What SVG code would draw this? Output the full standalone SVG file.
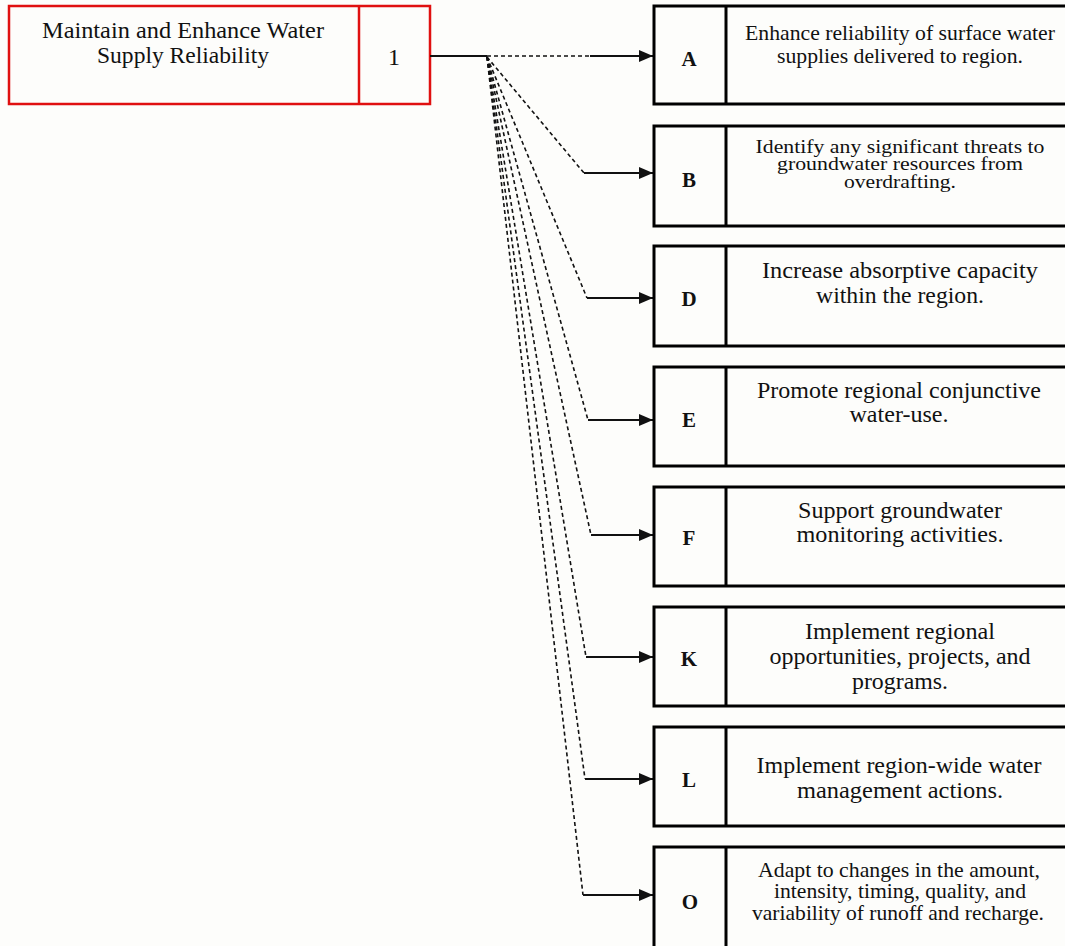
<svg xmlns="http://www.w3.org/2000/svg" width="1065" height="946" viewBox="0 0 1065 946">
<style>
.bg{fill:#fdfdfb}
.box{fill:#fdfdfb;stroke:#000;stroke-width:3}
.div{stroke:#000;stroke-width:3}
.red{fill:#fdfdfb;stroke:#e01010;stroke-width:2.5}
.rdiv{stroke:#e01010;stroke-width:2.5}
.t{font-family:"Liberation Serif","Times New Roman",serif;font-size:24px;fill:#111;text-anchor:middle}
.ta{font-family:"Liberation Serif","Times New Roman",serif;font-size:21px;fill:#111;text-anchor:middle}
.tb{font-family:"Liberation Serif","Times New Roman",serif;font-size:19px;fill:#111;text-anchor:middle}
.l{font-family:"Liberation Serif","Times New Roman",serif;font-size:21px;font-weight:bold;fill:#111;text-anchor:middle}
.dash{fill:none;stroke:#111;stroke-width:1.6;stroke-dasharray:4,3}
.arr{fill:none;stroke:#111;stroke-width:2;marker-end:url(#ah)}
.solid{fill:none;stroke:#111;stroke-width:2}
</style>
<defs>
<marker id="ah" markerWidth="14" markerHeight="12" refX="14" refY="6" orient="auto" markerUnits="userSpaceOnUse">
<path d="M0,0 L14,6 L0,12 Z" fill="#111"/>
</marker>
</defs>
<rect class="bg" x="0" y="0" width="1065" height="946"/>
<g id="goal1">
<rect class="red" x="9" y="6" width="421" height="98"/>
<line class="rdiv" x1="359" y1="6" x2="359" y2="104"/>
<text class="t" x="183" y="38" textLength="282" lengthAdjust="spacingAndGlyphs">Maintain and Enhance Water</text>
<text class="t" x="183" y="63" textLength="172" lengthAdjust="spacingAndGlyphs">Supply Reliability</text>
<text class="t" x="394" y="65">1</text>
</g>
<g id="connectors">
<line class="solid" x1="430" y1="56" x2="487" y2="56"/>
<path class="dash" d="M487,56 L590,56"/>
<path class="arr" d="M590,56 L653,56"/>
<path class="dash" d="M487,57 L584,173"/>
<path class="arr" d="M584,173 L653,173"/>
<path class="dash" d="M487,57 L587,298"/>
<path class="arr" d="M587,298 L653,298"/>
<path class="dash" d="M487,57 L588,420"/>
<path class="arr" d="M588,420 L653,420"/>
<path class="dash" d="M487,57 L591,535"/>
<path class="arr" d="M591,535 L653,535"/>
<path class="dash" d="M487,57 L586,657"/>
<path class="arr" d="M586,657 L653,657"/>
<path class="dash" d="M487,57 L585,779"/>
<path class="arr" d="M585,779 L653,779"/>
<path class="dash" d="M487,57 L583,895"/>
<path class="arr" d="M583,895 L653,895"/>
</g>
<g id="objA">
<rect class="box" x="654" y="6" width="420" height="98"/>
<line class="div" x1="726" y1="6" x2="726" y2="104"/>
<text class="l" x="689" y="66">A</text>
<text class="ta" x="900" y="40" textLength="310" lengthAdjust="spacingAndGlyphs">Enhance reliability of surface water</text>
<text class="ta" x="900" y="63" textLength="246" lengthAdjust="spacingAndGlyphs">supplies delivered to region.</text>
</g>
<g id="objB">
<rect class="box" x="654" y="126" width="420" height="100"/>
<line class="div" x1="726" y1="126" x2="726" y2="226"/>
<text class="l" x="689" y="187">B</text>
<text class="tb" x="900" y="153" textLength="289" lengthAdjust="spacingAndGlyphs">Identify any significant threats to</text>
<text class="tb" x="900" y="170" textLength="246" lengthAdjust="spacingAndGlyphs">groundwater resources from</text>
<text class="tb" x="900" y="188" textLength="112" lengthAdjust="spacingAndGlyphs">overdrafting.</text>
</g>
<g id="objD">
<rect class="box" x="654" y="246" width="420" height="100"/>
<line class="div" x1="726" y1="246" x2="726" y2="346"/>
<text class="l" x="689" y="306">D</text>
<text class="t" x="900" y="278" textLength="276" lengthAdjust="spacingAndGlyphs">Increase absorptive capacity</text>
<text class="t" x="900" y="303" textLength="168" lengthAdjust="spacingAndGlyphs">within the region.</text>
</g>
<g id="objE">
<rect class="box" x="654" y="367" width="420" height="99"/>
<line class="div" x1="726" y1="367" x2="726" y2="466"/>
<text class="l" x="689" y="427">E</text>
<text class="t" x="899" y="398" textLength="284" lengthAdjust="spacingAndGlyphs">Promote regional conjunctive</text>
<text class="t" x="899" y="422" textLength="99" lengthAdjust="spacingAndGlyphs">water-use.</text>
</g>
<g id="objF">
<rect class="box" x="654" y="487" width="420" height="99"/>
<line class="div" x1="726" y1="487" x2="726" y2="586"/>
<text class="l" x="689" y="545">F</text>
<text class="t" x="900" y="518" textLength="204" lengthAdjust="spacingAndGlyphs">Support groundwater</text>
<text class="t" x="900" y="542" textLength="207" lengthAdjust="spacingAndGlyphs">monitoring activities.</text>
</g>
<g id="objK">
<rect class="box" x="654" y="607" width="420" height="99"/>
<line class="div" x1="726" y1="607" x2="726" y2="706"/>
<text class="l" x="689" y="666">K</text>
<text class="t" x="900" y="639" textLength="190" lengthAdjust="spacingAndGlyphs">Implement regional</text>
<text class="t" x="900" y="664" textLength="261" lengthAdjust="spacingAndGlyphs">opportunities, projects, and</text>
<text class="t" x="900" y="689" textLength="96" lengthAdjust="spacingAndGlyphs">programs.</text>
</g>
<g id="objL">
<rect class="box" x="654" y="727" width="420" height="99"/>
<line class="div" x1="726" y1="727" x2="726" y2="826"/>
<text class="l" x="689" y="787">L</text>
<text class="t" x="899" y="773" textLength="285" lengthAdjust="spacingAndGlyphs">Implement region-wide water</text>
<text class="t" x="900" y="798" textLength="206" lengthAdjust="spacingAndGlyphs">management actions.</text>
</g>
<g id="objO">
<rect class="box" x="654" y="847" width="420" height="110"/>
<line class="div" x1="726" y1="847" x2="726" y2="957"/>
<text class="l" x="690" y="909">O</text>
<text class="ta" x="899" y="877" textLength="282" lengthAdjust="spacingAndGlyphs">Adapt to changes in the amount,</text>
<text class="ta" x="900" y="898" textLength="252" lengthAdjust="spacingAndGlyphs">intensity, timing, quality, and</text>
<text class="ta" x="898" y="920" textLength="292" lengthAdjust="spacingAndGlyphs">variability of runoff and recharge.</text>
</g>
</svg>
